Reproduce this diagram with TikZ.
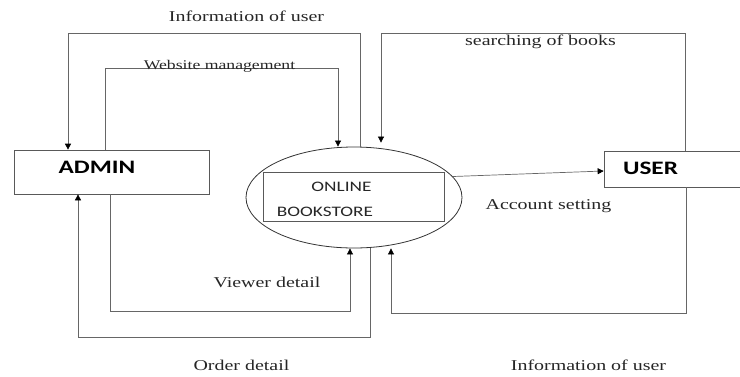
\documentclass[tikz,border=0pt]{standalone}
\usepackage{fontspec}
\usepackage{graphicx}
\setmainfont{Liberation Serif}
\newfontfamily\calib{Carlito}
\usetikzlibrary{arrows.meta,shapes.geometric}
\newcommand\hsc[1]{\scalebox{1.33}[1]{#1}}
\tikzset{
  box/.style={draw=black!65, line width=0.7pt, inner sep=0pt},
  flow/.style={draw=black!60, line width=0.7pt, -{Triangle[length=6pt,width=6pt,color=black]}},
  lab/.style={anchor=base, inner sep=0pt, text=black!85, font=\fontsize{15}{18}\selectfont},
  bold/.style={anchor=base, inner sep=0pt, text=black, font=\calib\bfseries\fontsize{19}{22}\selectfont},
  stxt/.style={anchor=base, inner sep=0pt, text=black!85, font=\calib\fontsize{14.5}{17}\selectfont}
}
\begin{document}
\begin{tikzpicture}[x=1pt,y=-1pt]
\useasboundingbox (0,0) rectangle (740,376);
% entities
\node[box, minimum width=195pt, minimum height=44pt] (admin) at (111.5,172) {};
\node[box, minimum width=140pt, minimum height=36pt] (user) at (674,169) {};
\node[draw=black!80, line width=0.8pt, ellipse, inner sep=0pt, minimum width=216pt, minimum height=101pt] (store) at (354,197.5) {};
\node[box, minimum width=181.5pt, minimum height=49.5pt] (inner) at (353.75,196.75) {};
\node[bold] (admintxt) at (97,173) {\hsc{ADMIN}};
\node[bold] (usertxt) at (650.5,174) {\hsc{USER}};
\node[stxt] (online) at (341.5,191.5) {\hsc{ONLINE}};
\node[stxt] (bookstore) at (325,216.5) {\hsc{BOOKSTORE}};
% flows
\draw[flow] ([xshift=6pt]store.north) -- ++(0,-113) -| ([xshift=-43.5pt]admin.north);
\draw[flow] ([xshift=-6.5pt]admin.north) -- ++(0,-81) -| ([xshift=-16pt]store.north);
\draw[flow] ([xshift=11pt]user.north) -- ++(0,-117) -| ([xshift=27pt,yshift=4pt]store.north);
\draw[flow] (store.12) -- ([yshift=-2pt]user.west);
\draw[flow] ([xshift=-1.5pt]admin.south) -- ++(0,117) -| ([xshift=-4pt]store.south);
\draw[flow] ([xshift=16pt]store.south) -- ++(0,89) -| ([xshift=-33.5pt]admin.south);
\draw[flow] ([xshift=12pt]user.south) -- ++(0,126) -| ([xshift=37pt]store.south);
% labels
\node[lab] (l1) at (246.5,21.7) {\hsc{Information of user}};
\node[lab, font=\fontsize{13.3}{16}\selectfont] (l2) at (219.5,69) {\hsc{Website management}};
\node[lab] (l3) at (540.5,45) {\hsc{searching of books}};
\node[lab] (l4) at (548.5,209) {\hsc{Account setting}};
\node[lab] (l5) at (267,287.5) {\hsc{Viewer detail}};
\node[lab] (l6) at (241.5,370.5) {\hsc{Order detail}};
\node[lab] (l7) at (588.5,370.5) {\hsc{Information of user}};
\end{tikzpicture}
\end{document}
